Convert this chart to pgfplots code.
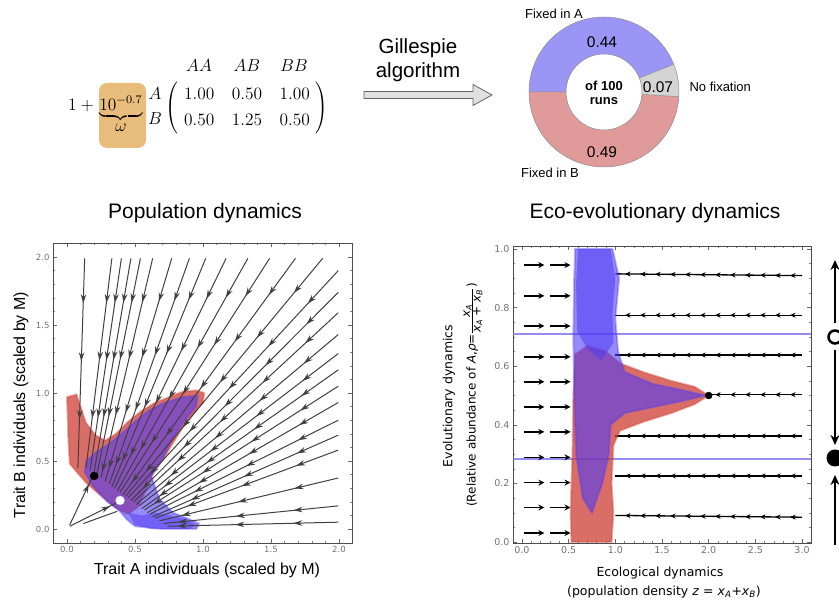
\documentclass[border=0pt]{standalone}
\usepackage{pgfplots}
\pgfplotsset{compat=1.18}
\usepackage{fontspec}
\setmainfont{Liberation Sans}
\newfontfamily\dejavu{DejaVu Sans}
\usetikzlibrary{arrows.meta,decorations.markings}
\definecolor{pieblue}{RGB}{155,150,245}
\definecolor{piered}{RGB}{224,154,154}
\definecolor{piegray}{RGB}{212,212,212}
\definecolor{boxorange}{RGB}{232,188,122}
\definecolor{trred}{RGB}{205,62,52}
\definecolor{trblue}{RGB}{80,58,245}
\definecolor{fixline}{RGB}{130,120,240}
\tikzset{
  stream/.style={draw=black!75, line width=1pt, postaction={decorate},
    decoration={markings, mark=between positions 45pt and -5pt step 58pt with {\arrow{Stealth[length=9pt,width=5.5pt]}}}},
  lstream/.style={draw=black, line width=1.3pt, postaction={decorate},
    decoration={markings, mark=between positions 12pt and -1pt step 15pt with {\arrow{Stealth[length=5.5pt,width=5pt]}}}},
  fm/.style={font=\fontsize{12}{14}\selectfont, inner sep=0pt, scale=1.45}
}
\begin{document}
\begin{tikzpicture}[x=1pt,y=1pt]
\path[use as bounding box] (0,0) rectangle (839,604);
\clip (0,0) rectangle (839,604);

% ---------- formula ----------
\fill[boxorange, rounded corners=8pt] (99,456) rectangle (146,521);
\node[fm, anchor=base east] at (98,493) {$1+{}$};
\node[fm, anchor=base] at (121,493) {$\underbrace{10^{-0.7}}_{\textstyle\omega}$};
\node[fm, anchor=base] at (155,504) {$A$};
\node[fm, anchor=base] at (155,479) {$B$};
\node[fm, anchor=base] at (199,532) {$AA$};
\node[fm, anchor=base] at (247,532) {$AB$};
\node[fm, anchor=base] at (294,532) {$BB$};
\node[fm] at (247,496.4) {\arraycolsep=6pt\def\arraystretch{1.25}%
  $\left(\begin{array}{@{\hspace{4.2pt}}ccc@{\hspace{4.2pt}}}1.00 & 0.50 & 1.00\\ 0.50 & 1.25 & 0.50\end{array}\right)$};

% ---------- Gillespie arrow ----------
\node[font=\fontsize{20.5}{24}\selectfont, align=center] at (418,544) {Gillespie\\algorithm};
\filldraw[fill=black!12, draw=black!60, line width=0.8pt]
  (364,505.5) -- (473,505.5) -- (473,498.5) -- (492,509) -- (473,519.5) -- (473,512.5) -- (364,512.5) -- cycle;

% ---------- donut ----------
\begin{scope}[shift={(604,512)}]
\pgfmathsetmacro\aA{180-0.44*360}
\pgfmathsetmacro\aN{\aA-0.07*360}
\fill[pieblue] (180:75) arc[start angle=180,end angle=\aA,radius=75] -- (\aA:38) arc[start angle=\aA,end angle=180,radius=38] -- cycle;
\fill[piegray] (\aA:75) arc[start angle=\aA,end angle=\aN,radius=75] -- (\aN:38) arc[start angle=\aN,end angle=\aA,radius=38] -- cycle;
\fill[piered] (\aN:75) arc[start angle=\aN,end angle=-180,radius=75] -- (-180:38) arc[start angle=-180,end angle=\aN,radius=38] -- cycle;
\draw[black!45, line width=0.5pt] (0,0) circle[radius=75];
\draw[black!45, line width=0.5pt] (0,0) circle[radius=38];
\draw[black!45, line width=0.5pt] (180:38) -- (180:75) (\aA:38) -- (\aA:75) (\aN:38) -- (\aN:75);
\node[font=\fontsize{15.5}{18}\selectfont] at (-2,50) {0.44};
\node[font=\fontsize{15.5}{18}\selectfont] at (54,5) {0.07};
\node[font=\fontsize{15.5}{18}\selectfont] at (-2,-60) {0.49};
\node[font=\fontsize{13}{14.5}\selectfont\bfseries, align=center] at (0,-1) {of 100\\runs};
\end{scope}
\node[font=\fontsize{13}{15}\selectfont] at (554,590) {Fixed in A};
\node[font=\fontsize{13}{15}\selectfont, anchor=west] at (686,517) {No fixation};
\node[font=\fontsize{13}{15}\selectfont] at (550,431) {Fixed in B};

% ---------- titles ----------
\node[font=\fontsize{21}{24}\selectfont] at (205,391) {Population dynamics};
\node[font=\fontsize{21}{24}\selectfont] at (655,391) {Eco-evolutionary dynamics};

% ---------- left axis ----------
\begin{axis}[at={(53pt,61pt)}, anchor=south west, scale only axis,
  width=299pt, height=300pt,
  xmin=-0.103, xmax=2.096, ymin=-0.103, ymax=2.103,
  xtick={0,0.5,1,1.5,2}, ytick={0,0.5,1,1.5,2}, minor tick num=4,
  axis line style={draw=black!70, line width=0.9pt},
  major tick style={black!60, line width=0.5pt}, minor tick style={black!50, line width=0.4pt},
  major tick length=4pt, minor tick length=2pt,
  tick label style={font=\dejavu\fontsize{8.5}{10}\selectfont, text=black!55},
  /pgf/number format/.cd, fixed, fixed zerofill, precision=1, assume math mode=true]
% trajectory envelopes
\addplot[fill=trred, fill opacity=0.75, draw=trred, draw opacity=0.35, line width=2pt] coordinates {
 (0.00,0.97) (0.07,0.99) (0.10,0.90) (0.14,0.78) (0.21,0.69) (0.28,0.65) (0.36,0.70) (0.45,0.79)
 (0.55,0.87) (0.65,0.93) (0.75,0.97) (0.85,1.01) (0.95,1.02) (1.01,1.00) (1.00,0.93) (0.93,0.85)
 (0.84,0.73) (0.76,0.60) (0.70,0.50) (0.64,0.42) (0.60,0.33) (0.56,0.24) (0.52,0.16) (0.45,0.11)
 (0.38,0.14) (0.30,0.20) (0.22,0.27) (0.14,0.34) (0.07,0.42) (0.02,0.48) (0.01,0.65)} -- cycle;
\addplot[fill=trblue, fill opacity=0.6, draw=trblue, draw opacity=0.35, line width=2pt] coordinates {
 (0.14,0.50) (0.22,0.57) (0.30,0.62) (0.40,0.70) (0.50,0.79) (0.60,0.87) (0.72,0.93) (0.85,0.97)
 (0.96,0.98) (0.95,0.90) (0.86,0.79) (0.78,0.67) (0.71,0.53) (0.62,0.39) (0.68,0.22) (0.78,0.12)
 (0.88,0.08) (0.97,0.04) (0.95,0.00) (0.70,0.00) (0.50,0.02) (0.44,0.07) (0.38,0.14) (0.30,0.20)
 (0.24,0.26) (0.18,0.33) (0.13,0.42)} -- cycle;
\addplot[fill=trblue, fill opacity=0.5, draw=none] coordinates {
 (0.45,0.12) (0.55,0.10) (0.65,0.12) (0.75,0.10) (0.88,0.07) (0.95,0.03) (0.90,0.00) (0.62,0.00) (0.50,0.03)} -- cycle;
% streamlines from the top edge
\addplot[stream] coordinates {(0.13,1.99) (0.08,0.45)};
\addplot[stream] coordinates {(0.33,1.99) (0.14,0.45)};
\addplot[stream] coordinates {(0.40,1.99) (0.17,0.43)};
\addplot[stream] coordinates {(0.47,1.99) (0.20,0.42)};
\addplot[stream] coordinates {(0.54,1.99) (0.22,0.40)};
\addplot[stream] coordinates {(0.63,1.99) (0.25,0.38)};
\addplot[stream] coordinates {(0.77,1.99) (0.28,0.35)};
\addplot[stream] coordinates {(0.90,1.99) (0.31,0.33)};
\addplot[stream] coordinates {(1.02,1.99) (0.33,0.31)};
\addplot[stream] coordinates {(1.17,1.99) (0.35,0.30)};
\addplot[stream] coordinates {(1.33,1.99) (0.37,0.28)};
\addplot[stream] coordinates {(1.49,1.99) (0.39,0.27)};
\addplot[stream] coordinates {(1.68,1.99) (0.41,0.25)};
\addplot[stream] coordinates {(1.88,1.99) (0.43,0.24)};
% streamlines from the right edge
\addplot[stream] coordinates {(1.995,1.90) (0.45,0.23)};
\addplot[stream] coordinates {(1.995,1.74) (0.47,0.21)};
\addplot[stream] coordinates {(1.995,1.59) (0.49,0.20)};
\addplot[stream] coordinates {(1.995,1.43) (0.51,0.18)};
\addplot[stream] coordinates {(1.995,1.29) (0.53,0.17)};
\addplot[stream] coordinates {(1.995,1.17) (0.55,0.15)};
\addplot[stream] coordinates {(1.995,1.05) (0.57,0.14)};
\addplot[stream] coordinates {(1.995,0.93) (0.59,0.12)};
\addplot[stream] coordinates {(1.995,0.80) (0.61,0.11)};
\addplot[stream] coordinates {(1.995,0.69) (0.63,0.09)};
\addplot[stream] coordinates {(1.995,0.58) (0.65,0.08)};
\addplot[stream] coordinates {(1.995,0.375) (0.68,0.06)};
\addplot[stream] coordinates {(1.995,0.17) (0.71,0.04)};
\addplot[stream] coordinates {(1.995,0.05) (0.74,0.02)};
% streamlines from the origin
\addplot[stream] coordinates {(0.02,0.03) (0.18,0.37)};
\addplot[stream] coordinates {(0.02,0.02) (0.36,0.19)};
\addplot[stream] coordinates {(0.12,0.04) (0.37,0.13)};
% equilibria
\addplot[only marks, mark=*, mark size=4pt, mark options={fill=black, draw=black}] coordinates {(0.2,0.39)};
\addplot[only marks, mark=*, mark size=4.5pt, mark options={fill=white, draw=black!20}] coordinates {(0.39,0.21)};
\end{axis}
\node[font=\fontsize{16}{18}\selectfont] at (207,34) {Trait A individuals (scaled by M)};
\node[font=\fontsize{16}{18}\selectfont, rotate=90] at (21,199) {Trait B individuals (scaled by M)};

% ---------- right axis ----------
\begin{axis}[at={(513pt,61pt)}, anchor=south west, scale only axis,
  width=298pt, height=297pt,
  xmin=-0.096, xmax=3.096, ymin=-0.003, ymax=1.01,
  xtick={0,0.5,1,1.5,2,2.5,3}, ytick={0,0.2,0.4,0.6,0.8,1.0},
  minor x tick num=4, minor y tick num=3,
  axis line style={draw=black!70, line width=0.9pt},
  major tick style={black!60, line width=0.5pt}, minor tick style={black!50, line width=0.4pt},
  major tick length=4pt, minor tick length=2pt,
  tick label style={font=\dejavu\fontsize{9.5}{11}\selectfont, text=black!55},
  /pgf/number format/.cd, fixed, fixed zerofill, precision=1, assume math mode=true]
% fixed points of the evolutionary dynamics
\addplot[fixline, line width=2pt, opacity=0.85] coordinates {(-0.2,0.71) (3.2,0.71)};
\addplot[fixline, line width=2pt, opacity=0.85] coordinates {(-0.2,0.285) (3.2,0.285)};
% ecological flow, left part
\addplot[black, line width=1.6pt, quiver={u=\thisrow{u}, v=\thisrow{v}}, -{Stealth[length=6pt,width=6pt]}]
 table[row sep=\\] {
 x y u v\\
 0.02 0.945 0.22 0\\ 0.30 0.945 0.22 0\\
 0.02 0.840 0.22 0\\ 0.30 0.840 0.22 0\\
 0.02 0.737 0.22 0\\ 0.30 0.737 0.22 0\\
 0.02 0.632 0.22 0\\ 0.30 0.632 0.22 0\\
 0.02 0.547 0.22 0\\ 0.30 0.547 0.22 0\\
 0.02 0.461 0.22 0\\ 0.30 0.461 0.22 0\\
 0.02 0.376 0.22 0\\ 0.30 0.376 0.22 0\\
 0.02 0.289 0.22 0\\ 0.30 0.289 0.22 0\\
 0.02 0.203 0.22 0\\ 0.30 0.203 0.22 0\\
 0.02 0.118 0.22 0\\ 0.30 0.118 0.22 0\\
 0.02 0.031 0.22 0\\ 0.30 0.031 0.22 0\\
 };
% ecological flow, right part
\addplot[lstream] coordinates {(3.0,0.909) (1.0,0.915)};
\addplot[lstream] coordinates {(3.0,0.774) (1.0,0.774)};
\addplot[lstream] coordinates {(3.0,0.638) (1.0,0.638)};
\addplot[lstream] coordinates {(3.0,0.503) (2.03,0.503)};
\addplot[lstream] coordinates {(3.0,0.362) (1.0,0.362)};
\addplot[lstream] coordinates {(3.0,0.226) (1.0,0.226)};
\addplot[lstream] coordinates {(3.0,0.085) (1.0,0.091)};
% trajectory envelopes
\addplot[fill=trred, fill opacity=0.75, draw=trred, draw opacity=0.35, line width=2pt] coordinates {
 (0.53,0.00) (0.52,0.10) (0.54,0.30) (0.55,0.50) (0.57,0.64) (0.70,0.67) (0.90,0.65) (1.05,0.61)
 (1.30,0.58) (1.60,0.55) (1.85,0.53) (2.00,0.50) (1.85,0.47) (1.60,0.44) (1.30,0.41) (1.05,0.38)
 (0.98,0.33) (0.96,0.20) (0.98,0.10) (0.96,0.00)} -- cycle;
\addplot[fill=trblue, fill opacity=0.6, draw=trblue, draw opacity=0.35, line width=2pt] coordinates {
 (0.57,1.00) (0.97,1.00) (1.04,0.90) (1.00,0.76) (1.03,0.65) (1.10,0.58) (1.40,0.54) (1.70,0.52)
 (1.97,0.50) (1.70,0.48) (1.40,0.46) (1.10,0.44) (0.95,0.40) (0.93,0.30) (0.86,0.20) (0.75,0.10)
 (0.65,0.15) (0.58,0.30) (0.56,0.50) (0.55,0.70) (0.56,0.90)} -- cycle;
\addplot[fill=trblue, fill opacity=0.55, draw=none] coordinates {
 (0.60,1.00) (0.95,1.00) (1.00,0.90) (0.97,0.78) (0.98,0.68) (0.85,0.62) (0.70,0.66) (0.59,0.72) (0.58,0.88)} -- cycle;
\addplot[only marks, mark=*, mark size=3.5pt, mark options={fill=black, draw=black}] coordinates {(2.0,0.5)};
\end{axis}
\node[font=\dejavu\fontsize{12.5}{14}\selectfont] at (660,31) {Ecological dynamics};
\node[font=\dejavu\fontsize{12.5}{14}\selectfont] at (664,12) {(population density \textit{z} = \textit{x}\textsubscript{\textit{A}}+\textit{x}\textsubscript{\textit{B}})};
\node[font=\dejavu\fontsize{12.5}{14}\selectfont, rotate=90] at (449,208) {Evolutionary dynamics};
\node[font=\dejavu\fontsize{12}{14}\selectfont, rotate=90] at (473,209) {(Relative abundance of \textit{A},\textit{ρ}=$\frac{\mbox{\dejavu\itshape x\textsubscript{A}}}{\mbox{\dejavu\itshape x\textsubscript{A} + x\textsubscript{B}}}$)};

% ---------- 1D evolutionary dynamics ----------
\draw[black, line width=2.5pt, -{Stealth[length=10pt,width=9pt]}] (835,281) -- (835,344);
\draw[black, line width=2.5pt] (835,267) circle[radius=6.5];
\draw[black, line width=2.5pt, -{Stealth[length=10pt,width=9pt]}] (835,254) -- (835,159);
\fill[black] (835,146) circle[radius=8.5];
\draw[black, line width=2.5pt, -{Stealth[length=10pt,width=9pt]}] (835,59) -- (835,129);
\end{tikzpicture}
\end{document}
